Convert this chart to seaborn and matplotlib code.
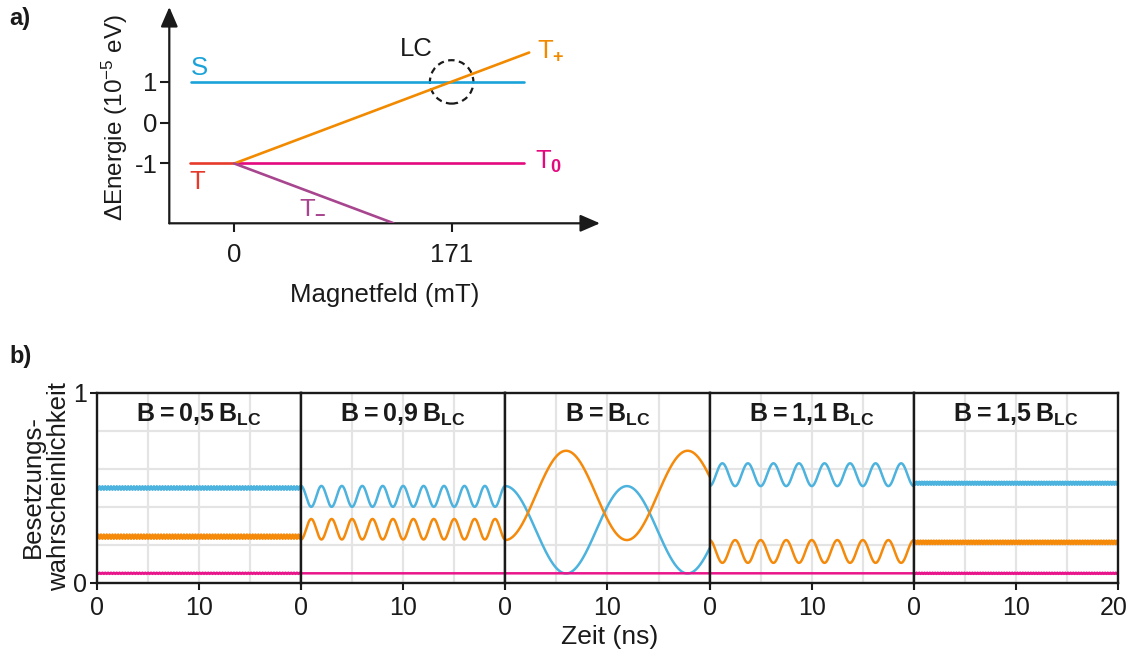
import numpy as np
import pandas as pd
import matplotlib
matplotlib.use("Agg")
import matplotlib.pyplot as plt
import matplotlib.transforms as mtrans
import seaborn as sns
from matplotlib.patches import Ellipse, FancyArrowPatch

sns.set_theme(style="white")
plt.rcParams["font.family"] = ["Liberation Sans", "DejaVu Sans"]
plt.rcParams["mathtext.fontset"] = "custom"
plt.rcParams["mathtext.rm"] = "Liberation Sans"
plt.rcParams["mathtext.it"] = "Liberation Sans:italic"
plt.rcParams["mathtext.bf"] = "Liberation Sans:bold"
plt.rcParams["axes.unicode_minus"] = False

INK = "#1a1a1a"
GRID = "#e4e4e4"
NARROW = ["Liberation Sans Narrow", "Liberation Sans", "DejaVu Sans"]

# ---------------- a) energy levels versus magnetic field ----------------
s_field, s_energy = [-34, 228], [1, 1]
t_field, t_energy = [-35, 0], [-1, -1]
t0_field, t0_energy = [0, 228], [-1, -1]
tp_field, tp_energy = [0, 232], [-1, 1.72]
tm_field, tm_energy = [0, 125], [-1, -2.46]
lc_field, lc_energy = 171, 1
field_ticks = [0, 171]
energy_ticks = [1, 0, -1]

# ---------------- b) populations over time for five field values ----------------
field_names = ["0,5\u2009", "0,9\u2009", "", "1,1\u2009", "1,5\u2009"]
time_ticks = [0, 10, 20]
prob_ticks = [0, 1]
# each trace oscillates as level +/- swing * cos(2*pi*t/period)
period_ns = [0.28, 2.0, 11.9, 2.5, 0.26]
s_start = [1, 1, 1, -1, 1]          # +1: singlet starts at its maximum
s_level = [0.500, 0.456, 0.280, 0.570, 0.525]
s_swing = [0.009, 0.055, 0.230, 0.060, 0.008]
tp_level = [0.244, 0.283, 0.461, 0.166, 0.214]
tp_swing = [0.011, 0.054, 0.235, 0.060, 0.009]
t0_level = [0.051, 0.051, 0.051, 0.051, 0.051]
t0_swing = [0.003, 0.0, 0.0, 0.0, 0.003]

W, H = 1128, 663
fig = plt.figure(figsize=(W / 100, H / 100), dpi=100)


def fx(x):
    return x / W


def fy(y):
    return 1 - y / H


# ---- panel a ----
ax_a = fig.add_axes([fx(169.3), fy(223.3), fx(600 - 169.3), (223.3 - 7) / H])
levels = [
    (s_field, s_energy, "#1ba3d9"),
    (t_field, t_energy, "#e63a2a"),
    (t0_field, t0_energy, "#e4097f"),
    (tp_field, tp_energy, "#f28a00"),
    (tm_field, tm_energy, "#a8458f"),
]
for xs, ys, col in levels:
    sns.lineplot(x=xs, y=ys, color=col, lw=1.9, ax=ax_a)
ax_a.set_xlim(-51.1, 287.7)
ax_a.set_ylim(-2.466, 2.836)
for sp in ax_a.spines.values():
    sp.set_visible(False)
for end in [(1, 0), (0, 1)]:
    ax_a.add_patch(FancyArrowPatch((0, 0), end, transform=ax_a.transAxes,
                                   arrowstyle="-|>,head_length=12,head_width=5.2",
                                   mutation_scale=1, lw=1.6, color=INK,
                                   shrinkA=0, shrinkB=0, clip_on=False))
ax_a.set_xticks(field_ticks, labels=[str(v) for v in field_ticks])
ax_a.set_yticks(energy_ticks, labels=[str(v) for v in energy_ticks])
ax_a.tick_params(axis="both", direction="out", length=6.5, width=1.5, color=INK,
                 labelsize=18.5, labelcolor=INK, bottom=True, left=True)
ax_a.tick_params(axis="x", pad=7.5)
ax_a.tick_params(axis="y", pad=2)
ax_a.add_patch(Ellipse((lc_field, lc_energy), width=34.2, height=1.064, fill=False,
                       ec=INK, lw=1.6, ls=(0, (2.9, 2.0))))

lab = dict(fontsize=18.5, va="center", ha="left")
ax_a.text(-34.3, 1.33, "S", color="#1ba3d9", **lab)
ax_a.text(-35.4, -1.45, "T", color="#e63a2a", **lab)
ax_a.text(51.1, -2.04, r"T$_\mathbf{-}$", color="#a8458f", **lab)
ax_a.text(130.3, 1.81, "LC", color=INK, **lab)
ax_a.text(238, 1.76, r"T$_\mathbf{+}$", color="#f28a00", **lab)
ax_a.text(236.6, -0.96, r"T$_\mathbf{0}$", color="#e4097f", **lab)

fig.text(fx(385), fy(295), "Magnetfeld (mT)", fontsize=18.5, color=INK,
         ha="center", va="center")
fig.text(fx(115), fy(118), r"$\Delta$Energie (10$^{-5}$ eV)", fontsize=17.5, color=INK,
         ha="center", va="center", rotation=90)
fig.text(fx(9), fy(18), "a)", fontsize=17, fontweight="bold", color=INK, va="center")

# ---- panel b ----
palette = {"S": "#4cb2de", "T+": "#f5890a", "T0": "#e8168a"}
left0, width = 96.7, 204.3
t = np.linspace(0, 20, 4001)
for i in range(5):
    ax = fig.add_axes([fx(left0 + i * width), fy(583), fx(width), 190 / H])
    ax.set_axisbelow(True)
    wave = np.cos(2 * np.pi * t / period_ns[i])
    df = pd.DataFrame({
        "t": np.tile(t, 3),
        "p": np.concatenate([
            s_level[i] + s_start[i] * s_swing[i] * wave,
            tp_level[i] - s_start[i] * tp_swing[i] * wave,
            t0_level[i] + t0_swing[i] * wave,
        ]),
        "state": np.repeat(["S", "T+", "T0"], len(t)),
    })
    sns.lineplot(data=df, x="t", y="p", hue="state", hue_order=["S", "T+", "T0"],
                 palette=palette, estimator=None, legend=False, lw=1.8, ax=ax)
    ax.set_xlim(0, 20)
    ax.set_ylim(0, 1)
    ax.set_xlabel("")
    ax.set_ylabel("")
    labels = [str(v) for v in time_ticks]
    if i < 4:
        labels[-1] = ""
    ax.set_xticks(time_ticks, labels=labels)
    ax.set_xticks([5, 15], minor=True)
    ax.set_yticks(prob_ticks, labels=[str(v) for v in prob_ticks])
    ax.set_yticks([0.2, 0.4, 0.6, 0.8], minor=True)
    ax.grid(True, which="both", color=GRID, lw=1.6)
    ax.tick_params(which="minor", length=0)
    ax.tick_params(axis="both", which="major", direction="out", length=5, width=1.5,
                   color=INK, labelsize=18, labelcolor=INK, bottom=True)
    ax.tick_params(axis="x", pad=4.5)
    for tl in ax.get_xticklabels():
        tl.set_family(NARROW)
    if i == 0:
        ax.tick_params(axis="y", left=True, pad=2)
    else:
        ax.tick_params(axis="y", left=False, labelleft=False)
    if i == 4:
        # keep the closing "20" inside the canvas
        last = ax.get_xticklabels()[-1]
        last.set_transform(last.get_transform()
                           + mtrans.ScaledTranslation(-5 / 100, 0, fig.dpi_scale_trans))
    for sp in ax.spines.values():
        sp.set_visible(True)
        sp.set_color(INK)
        sp.set_linewidth(1.7)
    ax.text(0.5, 0.849, "B\u2009=\u2009" + field_names[i] + r"B$_\mathbf{LC}$",
            transform=ax.transAxes, ha="center", va="baseline",
            fontsize=18, fontweight="bold", color=INK)

fig.text(fx(610), fy(637), "Zeit (ns)", fontsize=19, color=INK, ha="center",
         va="center", family=NARROW)
fig.text(fx(46), fy(487), "Besetzungs-\nwahrscheinlichkeit", fontsize=18.5, color=INK,
         ha="center", va="center", rotation=90, multialignment="center", linespacing=1.15)
fig.text(fx(9), fy(356), "b)", fontsize=17, fontweight="bold", color=INK, va="center")

fig.savefig("out.png", dpi=100)
